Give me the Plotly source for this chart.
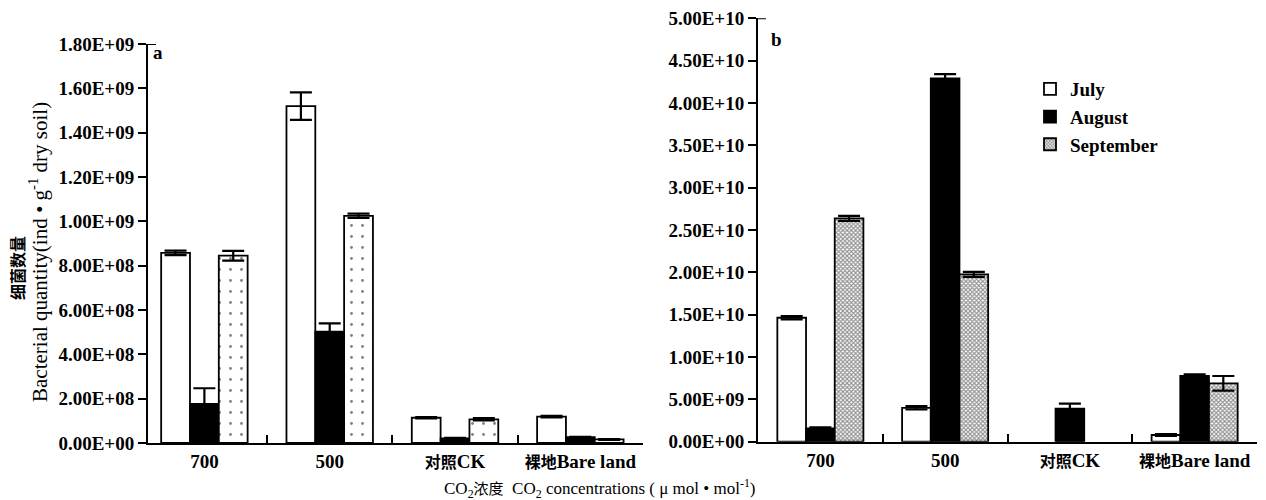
import plotly.graph_objects as go

# ---------------- data ----------------
categories = ["700", "500", "对照CK", "裸地Bare land"]
category_text = ["700", "500", "<span style='font-size:16px'>对照</span>CK",
                 "<span style='font-size:16px'>裸地</span>Bare land"]
months = ["July", "August", "September"]

# panel a
a_july = [8.58e8, 1.520e9, 1.14e8, 1.19e8]
a_aug = [1.76e8, 5.02e8, 2.1e7, 2.6e7]
a_sep = [8.45e8, 1.025e9, 1.07e8, 1.6e7]
a_july_err = [1.0e7, 6.2e7, 3e6, 3e6]
a_aug_err = [7.1e7, 3.8e7, 2e6, 2e6]
a_sep_err = [2.2e7, 1.0e7, 5e6, 2e6]

# panel b (no July / September bars for CK)
b_july = [1.464e10, 4.0e9, None, 7.9e8]
b_aug = [1.58e9, 4.29e10, 3.9e9, 7.76e9]
b_sep = [2.637e10, 1.976e10, None, 6.89e9]
b_july_err = [2e8, 2e8, 0, 1e8]
b_aug_err = [1e8, 5e8, 6e8, 2e8]
b_sep_err = [3e8, 3e8, 0, 8.7e8]

a_ticks = ["0.00E+00", "2.00E+08", "4.00E+08", "6.00E+08", "8.00E+08",
           "1.00E+09", "1.20E+09", "1.40E+09", "1.60E+09", "1.80E+09"]
b_ticks = ["0.00E+00", "5.00E+09", "1.00E+10", "1.50E+10", "2.00E+10",
           "2.50E+10", "3.00E+10", "3.50E+10", "4.00E+10", "4.50E+10", "5.00E+10"]

# ---------------- styles ----------------
SERIF = "Liberation Serif, Times New Roman, Noto Sans CJK SC, serif"
W, H = 1266, 500
pattern_a = dict(shape=".", size=11, solidity=0.05, fgcolor="black", bgcolor="white")
pattern_b = dict(shape="x", size=3, solidity=0.6, fgcolor="#222222", bgcolor="white")


def err(arr):
    return dict(type="data", array=arr, color="black", thickness=2.2, width=11)


fig = go.Figure()
panels = [
    ("x", "y", [a_july, a_aug, a_sep], [a_july_err, a_aug_err, a_sep_err], pattern_a, False),
    ("x2", "y2", [b_july, b_aug, b_sep], [b_july_err, b_aug_err, b_sep_err], pattern_b, True),
]
for xa, ya, series, errs, pat, legend in panels:
    fills = [dict(color="white"), dict(color="black"), dict(color="white", pattern=pat)]
    for name, vals, e, fill in zip(months, series, errs, fills):
        fig.add_trace(go.Bar(
            x=categories, y=vals, name=name, xaxis=xa, yaxis=ya,
            marker=dict(line=dict(color="black", width=1.8), **fill),
            error_y=err(e), showlegend=legend,
        ))

px_a = (148, 643, 44, 443)
px_b = (758, 1257, 18.3, 441.7)


def xdom(p):
    return [p[0] / W, p[1] / W]


def ydom(p):
    return [1 - p[3] / H, 1 - p[2] / H]


axis_common = dict(showline=True, linecolor="black", linewidth=2, showgrid=False,
                   zeroline=False, tickcolor="black", tickwidth=2, ticklen=8,
                   tickfont=dict(family=SERIF, size=19, color="black", weight="bold"))

fig.update_layout(
    width=W, height=H, autosize=False,
    margin=dict(l=0, r=0, t=0, b=0, pad=0, autoexpand=False),
    paper_bgcolor="white", plot_bgcolor="white",
    barmode="group", bargap=0.31, bargroupgap=0,
    xaxis=dict(domain=xdom(px_a), anchor="y", type="category", range=[-0.45, 3.5],
               ticks="inside", tickson="boundaries", tickvals=categories,
               ticktext=category_text, **axis_common),
    yaxis=dict(domain=ydom(px_a), anchor="x", range=[0, 1.8e9], ticks="outside",
               tickvals=[float(t) for t in a_ticks], ticktext=a_ticks, **axis_common),
    xaxis2=dict(domain=xdom(px_b), anchor="y2", type="category", range=[-0.5, 3.5],
                ticks="inside", tickson="boundaries", tickvals=categories,
                ticktext=category_text, **axis_common),
    yaxis2=dict(domain=ydom(px_b), anchor="x2", range=[0, 5.0e10], ticks="outside",
                tickvals=[float(t) for t in b_ticks], ticktext=b_ticks, **axis_common),
    legend=dict(x=1030 / W, y=1 - 70 / H, xanchor="left", yanchor="top",
                font=dict(family=SERIF, size=19, color="black", weight="bold"),
                bgcolor="rgba(0,0,0,0)", itemwidth=30, tracegroupgap=0),
    font=dict(family=SERIF, color="black"),
)

# top corner stubs of the y axes
fig.add_shape(type="line", xref="x domain", yref="y", x0=0, x1=8 / 495, y0=1.8e9, y1=1.8e9,
              line=dict(color="black", width=2))
fig.add_shape(type="line", xref="x2 domain", yref="y2", x0=0, x1=8 / 499, y0=5.0e10, y1=5.0e10,
              line=dict(color="black", width=2))

annotations = [
    dict(text="<b>a</b>", x=158 / W, y=1 - 53 / H, font=dict(size=19)),
    dict(text="<b>b</b>", x=777 / W, y=1 - 40 / H, font=dict(size=19)),
    dict(text="<b>细菌数量</b>", x=17 / W, y=1 - 268 / H,
         textangle=-90, font=dict(size=16, family="Noto Sans CJK SC")),
    dict(text="Bacterial quantity(ind • g<sup>-1</sup> dry soil)", x=38 / W, y=1 - 252 / H,
         textangle=-90, font=dict(size=21)),
    dict(text="CO<sub>2</sub><span style='font-size:15px'>浓度</span>  CO<sub>2</sub> concentrations ( μ mol • mol<sup>-1</sup>)",
         x=600 / W, y=1 - 488 / H, font=dict(size=17)),
]
for a in annotations:
    a.setdefault("font", {})
    a["font"].setdefault("family", SERIF)
    a["font"]["color"] = "black"
    fig.add_annotation(xref="paper", yref="paper", showarrow=False,
                       xanchor="center", yanchor="middle", **a)

fig.write_html("out.html", config={"displayModeBar": False},
               post_script="document.body.style.margin='0';")
